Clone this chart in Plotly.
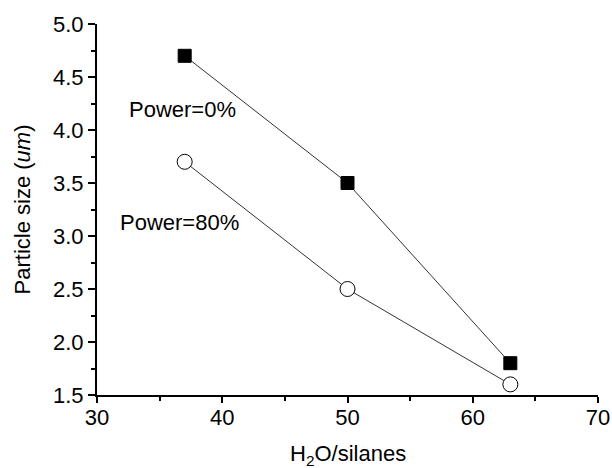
import plotly.graph_objects as go

x_ratio = [37, 50, 63]
size_power0 = [4.7, 3.5, 1.8]
size_power80 = [3.7, 2.5, 1.6]
x_ticks = [30, 40, 50, 60, 70]
y_ticks = [1.5, 2.0, 2.5, 3.0, 3.5, 4.0, 4.5, 5.0]

FONT = "Liberation Sans, Arial, sans-serif"

fig = go.Figure()
fig.add_trace(go.Scatter(
    x=x_ratio, y=size_power0, mode="lines+markers",
    line=dict(color="#333333", width=1),
    marker=dict(symbol="square", size=13, color="black", line=dict(color="black", width=1)),
    showlegend=False, cliponaxis=False))
fig.add_trace(go.Scatter(
    x=x_ratio, y=size_power80, mode="lines+markers",
    line=dict(color="#333333", width=1),
    marker=dict(symbol="circle", size=15, color="white", line=dict(color="black", width=1)),
    showlegend=False, cliponaxis=False))

fig.add_annotation(x=36.8, y=4.19, text="Power=0%", showarrow=False,
                   font=dict(family=FONT, size=22, color="black"))
fig.add_annotation(x=36.6, y=3.13, text="Power=80%", showarrow=False,
                   font=dict(family=FONT, size=22, color="black"))
# x-axis title placed precisely below tick labels
fig.add_annotation(x=0.5, y=-0.162, xref="paper", yref="paper", xanchor="center", yanchor="middle",
                   text="H<sub>2</sub>O/silanes", showarrow=False,
                   font=dict(family=FONT, size=22, color="black"))

fig.update_layout(
    width=612, height=468,
    margin=dict(l=97, r=14, t=24, b=73),
    paper_bgcolor="white", plot_bgcolor="white",
    font=dict(family=FONT, size=22, color="black"),
    xaxis=dict(range=[30, 70], tickvals=x_ticks, ticks="outside", ticklen=6, tickwidth=1.5,
               tickcolor="black", showline=True, linecolor="black", linewidth=2,
               showgrid=False, zeroline=False, ticklabelstandoff=-4, automargin=False,
               minor=dict(ticks="outside", ticklen=4, dtick=5, tickcolor="black",
                          tickwidth=1.5, showgrid=False)),
    yaxis=dict(range=[1.5, 5.0], tickvals=y_ticks, tickformat=".1f", ticks="outside", ticklen=7,
               tickwidth=1.5, tickcolor="black", showline=True, linecolor="black", linewidth=2,
               showgrid=False, zeroline=False, automargin=False,
               minor=dict(ticks="outside", ticklen=4, dtick=0.25, tickcolor="black",
                          tickwidth=1.5, showgrid=False),
               title=dict(text="Particle size (<i>um</i>)", standoff=16, font=dict(size=22))),
)

fig.write_html("out.html")
